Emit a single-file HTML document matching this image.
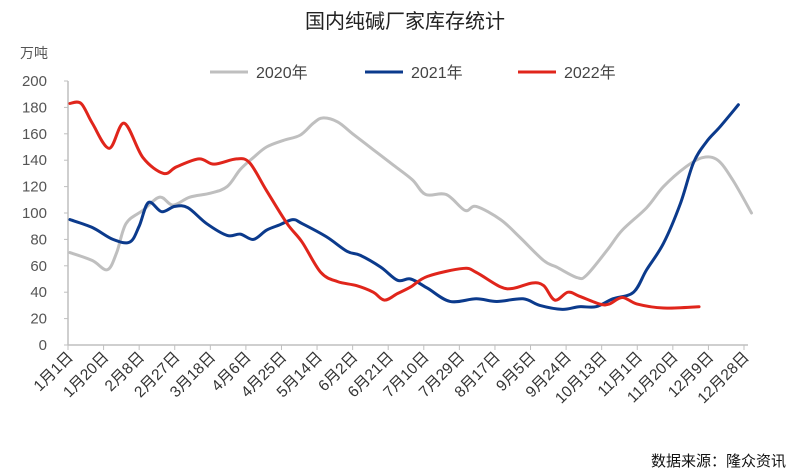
<!DOCTYPE html>
<html><head><meta charset="utf-8"><style>
body{margin:0;background:#fff}
svg{display:block;font-family:"Liberation Sans","Noto Sans CJK SC",sans-serif}
</style></head><body>
<svg id="chart" width="800" height="473" viewBox="0 0 800 473" xmlns="http://www.w3.org/2000/svg">
<text x="405" y="28" font-size="20" text-anchor="middle" fill="#222">国内纯碱厂家库存统计</text>
<text x="20" y="58" font-size="14" fill="#555">万吨</text>
<g id="legend"></g>
<g id="axes"></g>
<g id="series"></g>
<text x="786" y="466" font-size="15" text-anchor="end" fill="#111">数据来源：隆众资讯</text>
</svg>
<script>
const xLabels=["1月1日","1月20日","2月8日","2月27日","3月18日","4月6日","4月25日","5月14日","6月2日","6月21日","7月10日","7月29日","8月17日","9月5日","9月24日","10月13日","11月1日","11月20日","12月9日","12月28日"];
const yTicks=[0,20,40,60,80,100,120,140,160,180,200];
const seriesNames=["2020年","2021年","2022年"];
const days2020=[1,13,21,26,31,40,49,56,65,76,85,92,99,106,115,124,131,136,144,152,163,174,184,191,202,212,218,231,241,254,261,272,277,288,296,309,318,330,339,347,355,365];
const vals2020=[70,64,57,70,92,102,112,106,112,115,120,133,142,150,155,159,168,172,169,160,148,136,125,114,114,102,105,95,82,64,59,51,53,72,87,104,120,135,142,140,125,100];
const days2021=[1,13,24,33,38,43,50,57,64,74,85,92,99,106,113,120,125,138,149,156,167,176,183,192,204,218,229,243,252,264,273,282,291,302,309,318,327,334,341,348,358];
const vals2021=[95,89,80,78,90,108,101,105,104,92,83,84,80,87,91,95,92,82,71,68,59,49,50,43,33,35,33,35,30,27,29,29,35,40,57,77,107,138,154,165,182];
const days2022=[1,7,13,22,30,40,51,58,70,78,90,97,106,117,125,135,144,154,163,169,176,183,192,211,218,231,238,248,254,260,267,273,284,289,296,304,318,337];
const vals2022=[183,183,168,149,168,142,130,135,141,137,141,138,117,92,78,55,48,45,40,34,39,44,52,58,55,44,43,47,45,34,40,37,31,31,36,31,28,29];

const NS="http://www.w3.org/2000/svg";
const X0=68,X1=744,Y0=345,Y1=81,DMAX=361;
const xs=d=>X0+(X1-X0)*d/DMAX;
const ys=v=>Y0-(Y0-Y1)*v/200;
function mk(tag,attrs,parent,text){const e=document.createElementNS(NS,tag);for(const k in attrs)e.setAttribute(k,attrs[k]);if(text!==undefined)e.textContent=text;parent.appendChild(e);return e;}
const axes=document.getElementById('axes');
const ax=mk('line',{x1:X0,y1:Y1,x2:X0,y2:Y0,stroke:'#bfbfbf','stroke-width':1.5},axes);


const bx=mk('line',{x1:X0,y1:Y0,x2:X1+4,y2:Y0,stroke:'#bfbfbf','stroke-width':1.5},axes);


yTicks.forEach(v=>{
  const t=mk('text',{x:47,y:ys(v)+5,'font-size':15,'text-anchor':'end',fill:'#555'},axes,String(v));
  
  
  mk('line',{x1:X0-4,y1:ys(v),x2:X0,y2:ys(v),stroke:'#bfbfbf'},axes);
});
xLabels.forEach((l,i)=>{
  const x=X0+(X1-X0)*i/(xLabels.length-1);
  mk('line',{x1:x,y1:Y0,x2:x,y2:Y0+5,stroke:'#bfbfbf'},axes);
  const t=mk('text',{x:x+6,y:Y0+13,'font-size':15.5,'text-anchor':'end',fill:'#333',transform:`rotate(-45 ${x+6} ${Y0+13})`},axes,l);
  
  
});
function smooth(pts){let d=`M${pts[0][0]},${pts[0][1]}`;for(let i=0;i<pts.length-1;i++){const p0=pts[i-1]||pts[i],p1=pts[i],p2=pts[i+1],p3=pts[i+2]||p2;const c1=[p1[0]+(p2[0]-p0[0])/6,p1[1]+(p2[1]-p0[1])/6],c2=[p2[0]-(p3[0]-p1[0])/6,p2[1]-(p3[1]-p1[1])/6];d+=`C${c1[0]},${c1[1]} ${c2[0]},${c2[1]} ${p2[0]},${p2[1]}`;}return d;}
const colors=['#bfbfbf','#0b3a8c','#e0251b'];
const series=document.getElementById('series');
[[days2020,vals2020],[days2021,vals2021],[days2022,vals2022]].forEach((s,i)=>{
  const pts=s[0].map((d,j)=>[xs(d),ys(s[1][j])]);
  const p=mk('path',{d:smooth(pts),fill:'none',stroke:colors[i],'stroke-width':3,'stroke-linejoin':'round','stroke-linecap':'round'},series);
  
  
});
const leg=document.getElementById('legend');
const lx=[210,365,518];
seriesNames.forEach((n,i)=>{
  const g=mk('g',{},leg);
  
  
  mk('line',{x1:lx[i],y1:72,x2:lx[i]+38,y2:72,stroke:colors[i],'stroke-width':3},g);
  mk('text',{x:lx[i]+46,y:78,'font-size':16,fill:'#444'},g,n);
});
</script>
</body></html>
